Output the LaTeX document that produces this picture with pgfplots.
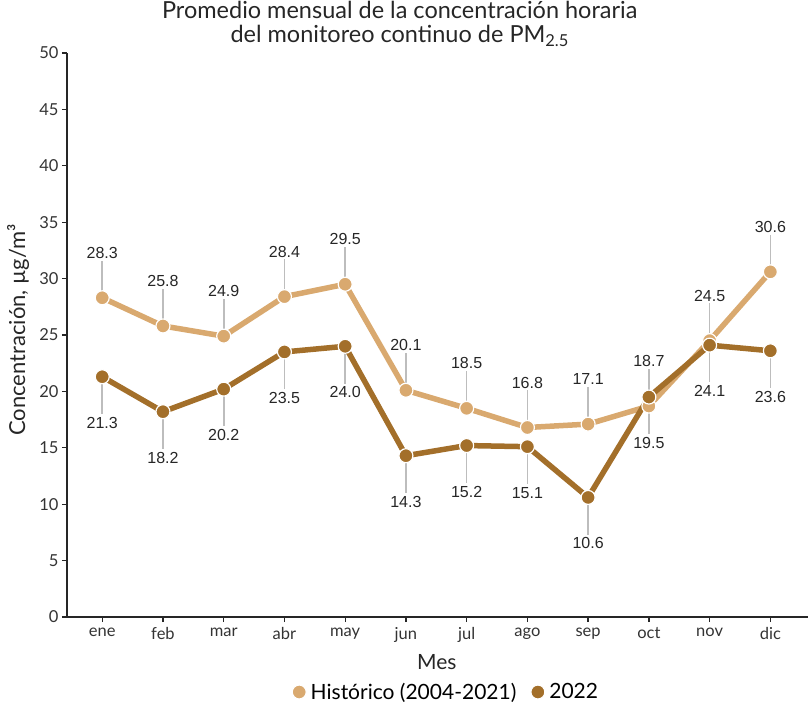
\documentclass[border=0pt]{standalone}
\usepackage{fontspec}
\setmainfont{Lato}
\newfontfamily\arialfont{Liberation Sans}
\usepackage{pgfplots}
\pgfplotsset{compat=1.18}
\definecolor{hist}{HTML}{D9A96F}
\definecolor{cur}{HTML}{A36F2A}
\definecolor{lead}{HTML}{BDBDBD}
\begin{document}
\begin{tikzpicture}[x=1pt,y=1pt]
\path[use as bounding box] (0,0) rectangle (808,705);
\begin{axis}[
  at={(67pt,88pt)}, anchor=south west,
  scale only axis, width=741pt, height=564pt,
  xmin=-0.58, xmax=11.62, ymin=0, ymax=50,
  axis x line*=bottom, axis y line*=left,
  axis line style={-, line width=2pt, color=black!85},
  xtick={0,...,11},
  xticklabels={ene,feb,mar,abr,may,jun,jul,ago,sep,oct,nov,dic},
  ytick={0,5,...,50},
  tick align=outside, major tick length=5pt,
  tick style={black!85, line width=1.3pt},
  /pgf/number format/assume math mode=true,
  tick label style={font=\fontsize{16.5}{19}\selectfont, color=black!80},
  xticklabel style={yshift=-2pt},
  xlabel={Mes},
  xlabel style={at={(axis description cs:0.499,-0.080)}, anchor=center, font=\fontsize{21}{24}\selectfont, color=black!85},
  ylabel={Concentración, µg/m³},
  ylabel style={at={(axis description cs:-0.066,0.509)}, anchor=center, font=\fontsize{22}{25}\selectfont, color=black!85},
  title={Promedio mensual de la concentración horaria\\del monitoreo continuo de PM\textsubscript{2.5}},
  title style={align=center, at={(axis description cs:0.449,1.041)}, anchor=center, font=\fontsize{23.5}{24}\selectfont, color=black!85},
  legend style={at={(axis description cs:0.51,-0.133)}, anchor=center, draw=none, fill=none,
    legend columns=2, font=\fontsize{21}{24}\selectfont,
    /tikz/every even column/.append style={column sep=10pt}},
  legend image code/.code={
    \draw[line width=5pt] (0pt,0pt) -- (14pt,0pt);
    \draw[mark size=7pt, line width=1pt] plot coordinates {(7pt,0pt)};
  },
  clip=false,
]
% leader lines
\addplot[forget plot, only marks, mark=none,
  error bars/.cd, y dir=plus, y explicit, error mark=none,
  error bar style={draw=lead, line width=1.6pt}]
  coordinates {
  (0,28.3) +- (0,3.3) (1,25.8) +- (0,3.3) (2,24.9) +- (0,3.3) (3,28.4) +- (0,3.3)
  (4,29.5) +- (0,3.3) (5,20.1) +- (0,3.3) (6,18.5) +- (0,3.3) (7,16.8) +- (0,3.3)
  (8,17.1) +- (0,3.3) (9,18.7) +- (0,3.3) (10,24.5) +- (0,3.3) (11,30.6) +- (0,3.3)};
\addplot[forget plot, only marks, mark=none,
  error bars/.cd, y dir=minus, y explicit, error mark=none,
  error bar style={draw=lead, line width=1.6pt}]
  coordinates {
  (0,21.3) +- (0,3.3) (1,18.2) +- (0,3.3) (2,20.2) +- (0,3.3) (3,23.5) +- (0,3.3)
  (4,24.0) +- (0,3.3) (5,14.3) +- (0,3.3) (6,15.2) +- (0,3.3) (7,15.1) +- (0,3.3)
  (8,10.6) +- (0,3.3) (9,19.5) +- (0,3.3) (10,24.1) +- (0,3.3) (11,23.6) +- (0,3.3)};
% historic
\addplot[color=hist, line width=5.5pt, line join=round, mark=*, mark size=7pt,
  mark options={fill=hist, draw=white, line width=1.2pt},
  nodes near coords={\pgfmathprintnumber[fixed,fixed zerofill,precision=1,assume math mode=true]{\pgfplotspointmeta}},
  every node near coord/.append style={font=\arialfont\fontsize{16}{18}\selectfont, text=black!85, anchor=center, yshift=45pt}]
  coordinates {(0,28.3) (1,25.8) (2,24.9) (3,28.4) (4,29.5) (5,20.1) (6,18.5) (7,16.8) (8,17.1) (9,18.7) (10,24.5) (11,30.6)};
\addlegendentry{Histórico (2004-2021)}
% 2022
\addplot[color=cur, line width=5.5pt, line join=round, mark=*, mark size=7pt,
  mark options={fill=cur, draw=white, line width=1.2pt},
  nodes near coords={\pgfmathprintnumber[fixed,fixed zerofill,precision=1,assume math mode=true]{\pgfplotspointmeta}},
  every node near coord/.append style={font=\arialfont\fontsize{16}{18}\selectfont, text=black!85, anchor=center, yshift=-46pt}]
  coordinates {(0,21.3) (1,18.2) (2,20.2) (3,23.5) (4,24.0) (5,14.3) (6,15.2) (7,15.1) (8,10.6) (9,19.5) (10,24.1) (11,23.6)};
\addlegendentry{2022}
\end{axis}
\end{tikzpicture}
\end{document}
